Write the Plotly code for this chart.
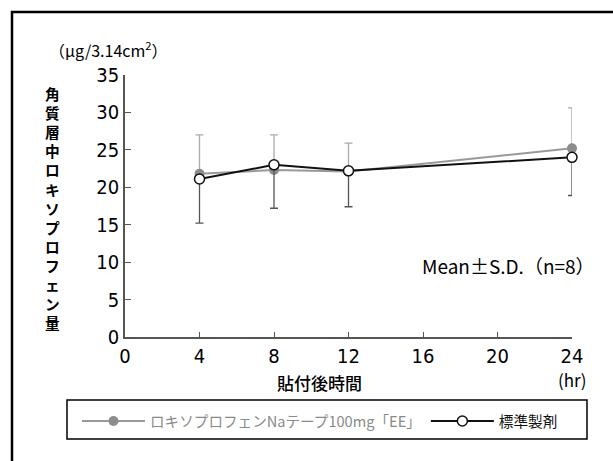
import plotly.graph_objects as go

hours = [4, 8, 12, 24]
test_mean = [21.8, 22.3, 22.1, 25.2]
test_sd_upper = [5.2, 4.7, 3.8, 5.4]
std_mean = [21.1, 23.0, 22.2, 24.0]
std_sd_lower = [5.9, 5.8, 4.8, 5.1]
x_ticks = [0, 4, 8, 12, 16, 20, 24]
y_ticks = [0, 5, 10, 15, 20, 25, 30, 35]
test_name = "ロキソプロフェンNaテープ100mg「EE」"
std_name = "標準製剤"
y_title = "角質層中ロキソプロフェン量"

W, H = 613, 461
ML, MR, MT, MB = 125, 41, 75, 124
PW, PH = W - ML - MR, H - MT - MB

def px(xp):
    return (xp - ML) / PW

def py(yp):
    return (H - MB - yp) / PH

CJK = "Noto Sans CJK JP"
NUM = "Liberation Sans Narrow, DejaVu Sans Condensed, Roboto, Noto Sans CJK JP"

fig = go.Figure()
fig.add_trace(go.Scatter(
    x=hours, y=test_mean, name="<span style='color:#8a8a8a'>" + test_name + "</span>",
    mode="lines+markers",
    line=dict(color="#999999", width=2),
    marker=dict(symbol="circle", size=10, color="#8c8c8c"),
    error_y=dict(type="data", symmetric=False, array=test_sd_upper, arrayminus=[0] * len(hours),
                 color="#aaaaaa", thickness=1.3, width=4),
    cliponaxis=False,
))
fig.add_trace(go.Scatter(
    x=hours, y=std_mean, name="<span style='color:#111'>" + std_name + "</span>",
    mode="lines+markers",
    line=dict(color="#111111", width=2),
    marker=dict(symbol="circle", size=10, color="white", line=dict(color="#111111", width=1.5)),
    error_y=dict(type="data", symmetric=False, array=[0] * len(hours), arrayminus=std_sd_lower,
                 color="#555555", thickness=1.3, width=4),
    cliponaxis=False,
))

annotations = [
    dict(text="（μg/3.14cm<sup>2</sup>）", xref="paper", yref="paper", x=px(108), y=py(50),
         showarrow=False, font=dict(family=CJK, size=16), xanchor="center", yanchor="middle"),
    dict(text="貼付後時間", xref="paper", yref="paper", x=px(319), y=py(382),
         showarrow=False, font=dict(family=CJK, size=17, weight=500), xanchor="center", yanchor="middle"),
    dict(text="(hr)", xref="paper", yref="paper", x=px(572), y=py(380),
         showarrow=False, font=dict(family=CJK, size=17), xanchor="center", yanchor="middle"),
    dict(text="Mean±S.D.（n=8）", xref="paper", yref="paper", x=px(597), y=py(265),
         showarrow=False, font=dict(family=CJK, size=19), xanchor="right", yanchor="middle"),
    dict(text="<br>".join(list(y_title)), xref="paper", yref="paper", x=px(52), y=py(208),
         showarrow=False, font=dict(family=CJK, size=14.7, weight=700),
         xanchor="center", yanchor="middle"),
]

fig.update_layout(
    width=W, height=H,
    margin=dict(l=ML, r=MR, t=MT, b=MB),
    paper_bgcolor="white", plot_bgcolor="white",
    font=dict(family=CJK, color="black"),
    showlegend=True,
    legend=dict(orientation="h", x=px(77), xanchor="left", y=py(405), yanchor="top",
                borderwidth=0, bgcolor="rgba(0,0,0,0)",
                font=dict(family=CJK, size=14.6), itemwidth=63,
                traceorder="normal"),
    xaxis=dict(range=[0, 24], tickvals=x_ticks, ticktext=[str(v) for v in x_ticks],
               showgrid=False, zeroline=False, showline=True, linecolor="#555555", linewidth=1.5,
               ticks="inside", ticklen=5, tickcolor="#555555", tickwidth=1.3,
               tickfont=dict(family=NUM, size=20, color="black"), fixedrange=True),
    yaxis=dict(range=[0, 35], tickvals=y_ticks, ticktext=[str(v) for v in y_ticks],
               showgrid=False, zeroline=False, showline=True, linecolor="#555555", linewidth=1.5,
               ticks="inside", ticklen=6, tickcolor="#555555", tickwidth=1.3,
               tickfont=dict(family=NUM, size=20, color="black"), fixedrange=True),
    shapes=[
        dict(type="rect", xref="paper", yref="paper",
             x0=px(12), x1=px(W + 20), y0=py(H + 20), y1=py(12),
             line=dict(color="black", width=2.5), fillcolor="rgba(0,0,0,0)", layer="below"),
        dict(type="rect", xref="paper", yref="paper",
             x0=px(67), x1=px(587), y0=py(439), y1=py(400),
             line=dict(color="black", width=1.5), fillcolor="rgba(0,0,0,0)", layer="below"),
    ],
    annotations=annotations,
)

fig.write_html("out.html", config={"displayModeBar": False},
               post_script="document.body.style.margin='0';")
